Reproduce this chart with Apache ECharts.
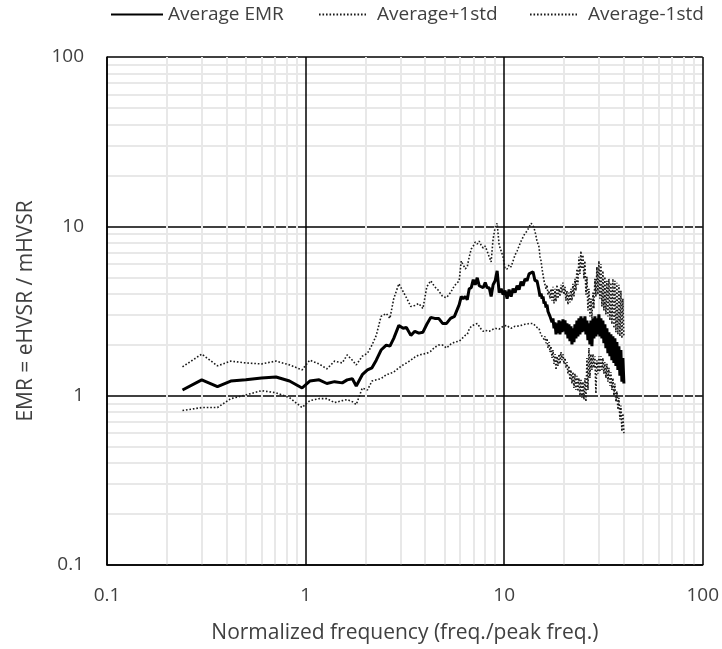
<!DOCTYPE html>
<html>
<head>
<meta charset="utf-8">
<title>EMR vs normalized frequency</title>
<script src="https://cdn.jsdelivr.net/npm/echarts@6/dist/echarts.min.js"></script>
<style>
  html, body { margin: 0; padding: 0; background: #ffffff; }
  #chart { width: 722px; height: 649px; }
</style>
</head>
<body>
<div id="chart"></div>
<script>
// Normalized frequency (freq./peak freq.)
const freq = [
  0.24, 0.30, 0.36, 0.42, 0.50, 0.60, 0.71, 0.83, 0.96, 1.05,
  1.17, 1.28, 1.40, 1.53, 1.62, 1.72, 1.80, 1.93, 2.05, 2.16,
  2.27, 2.40, 2.55, 2.66, 2.78, 2.95, 3.10, 3.22, 3.39, 3.55,
  3.72, 3.90, 4.08, 4.27, 4.47, 4.68, 4.90, 5.13, 5.37, 5.62,
  5.94, 6.08, 6.22, 6.37, 6.52, 6.67, 6.83, 6.99, 7.15, 7.32,
  7.49, 7.66, 7.84, 8.03, 8.21, 8.41, 8.60, 8.80, 9.01, 9.22,
  9.44, 9.66, 9.88, 10.11, 10.35, 10.59, 10.84, 11.09, 11.35, 11.62,
  11.89, 12.17, 12.45, 12.74, 13.04, 13.35, 13.66, 13.98, 14.30, 14.64,
  14.99, 15.16, 15.34, 15.52, 15.70, 15.88, 16.07, 16.25, 16.44, 16.63,
  16.83, 17.02, 17.22, 17.42, 17.62, 17.83, 18.04, 18.25, 18.46, 18.67,
  18.89, 19.11, 19.33, 19.56, 19.78, 20.01, 20.25, 20.48, 20.72, 20.96,
  21.21, 21.45, 21.70, 21.96, 22.21, 22.47, 22.73, 23.00, 23.26, 23.53,
  23.81, 24.09, 24.37, 24.65, 24.94, 25.23, 25.52, 25.82, 26.12, 26.42,
  26.73, 27.04, 27.36, 27.68, 28.00, 28.32, 28.65, 28.99, 29.33, 29.67,
  30.01, 30.36, 30.72, 31.07, 31.43, 31.80, 32.17, 32.55, 32.93, 33.31,
  33.70, 34.09, 34.49, 34.89, 35.30, 35.71, 36.12, 36.55, 36.97, 37.40,
  37.84, 38.28, 38.73, 39.18, 39.63, 40.10
];

// Average EMR = eHVSR / mHVSR
const avgEMR = [
  1.08, 1.24, 1.13, 1.22, 1.24, 1.27, 1.29, 1.22, 1.11, 1.22,
  1.24, 1.18, 1.21, 1.19, 1.24, 1.26, 1.14, 1.33, 1.42, 1.46,
  1.62, 1.86, 1.99, 1.96, 2.18, 2.60, 2.50, 2.53, 2.27, 2.40,
  2.34, 2.37, 2.64, 2.90, 2.86, 2.86, 2.67, 2.67, 2.86, 2.94,
  3.45, 3.85, 3.74, 3.85, 3.69, 4.28, 4.34, 4.84, 4.52, 4.97,
  4.46, 4.52, 4.34, 4.65, 4.34, 4.34, 3.85, 4.52, 4.77, 5.46,
  4.06, 4.28, 3.95, 4.17, 3.74, 4.23, 3.85, 4.28, 4.06, 4.46,
  4.23, 4.71, 4.46, 4.90, 4.77, 5.24, 5.11, 5.39, 4.77, 4.77,
  4.17, 3.85, 4.01, 3.74, 3.85, 3.50, 3.60, 3.32, 3.45, 3.14,
  3.18, 2.94, 3.02, 2.71, 2.86, 2.50, 2.71, 2.30, 2.67, 2.34,
  2.78, 2.30, 2.75, 2.37, 2.82, 2.40, 2.78, 2.30, 2.67, 2.18,
  2.64, 2.10, 2.57, 2.01, 2.50, 2.07, 2.64, 2.18, 2.78, 2.24,
  2.86, 2.30, 2.94, 2.37, 2.86, 2.40, 2.94, 2.30, 2.78, 2.13,
  2.67, 2.01, 2.78, 1.96, 2.86, 2.18, 2.94, 2.24, 2.86, 2.30,
  3.02, 2.24, 2.86, 2.18, 2.78, 2.04, 2.64, 1.91, 2.50, 1.78,
  2.37, 1.71, 2.30, 1.62, 2.24, 1.56, 2.18, 1.50, 2.07, 1.42,
  1.96, 1.31, 1.86, 1.21, 1.67, 1.18
];

// Average + 1 standard deviation
const avgPlus1 = [
  1.48, 1.76, 1.50, 1.60, 1.56, 1.54, 1.60, 1.52, 1.42, 1.62,
  1.54, 1.44, 1.60, 1.56, 1.74, 1.62, 1.52, 1.71, 1.78, 1.99,
  2.27, 2.94, 3.06, 2.86, 3.74, 4.58, 4.12, 3.79, 3.36, 3.41,
  3.50, 3.27, 4.40, 4.77, 4.40, 4.17, 3.85, 3.79, 4.06, 4.46,
  4.77, 6.25, 6.25, 5.61, 5.76, 6.60, 7.35, 7.65, 8.07, 7.86,
  8.18, 7.75, 7.44, 7.65, 7.15, 6.60, 6.17, 8.41, 9.88, 10.43,
  7.75, 7.15, 6.60, 5.61, 5.61, 5.92, 5.76, 6.25, 6.78, 7.15,
  7.65, 8.18, 8.64, 9.11, 9.36, 9.88, 10.43, 10.15, 9.36, 8.18,
  7.55, 6.60, 6.25, 5.61, 5.17, 4.77, 4.65, 4.28, 4.52, 3.95,
  4.17, 3.74, 4.28, 3.64, 4.40, 3.50, 4.28, 3.60, 4.52, 3.74,
  4.28, 3.85, 4.52, 4.06, 4.65, 3.95, 4.40, 3.64, 4.17, 3.45,
  4.06, 3.55, 4.28, 3.64, 4.58, 3.85, 4.90, 4.17, 5.61, 4.52,
  6.60, 5.24, 7.15, 5.61, 6.78, 4.90, 6.25, 3.95, 5.04, 3.18,
  4.28, 2.94, 3.74, 2.86, 4.06, 3.27, 4.90, 3.85, 5.76, 3.95,
  6.25, 3.74, 6.00, 3.36, 5.46, 3.18, 5.04, 3.02, 4.77, 2.94,
  4.90, 2.78, 4.65, 2.64, 4.90, 2.50, 4.77, 2.37, 4.65, 2.30,
  4.52, 2.24, 4.17, 2.18, 3.74, 2.24
];

// Average - 1 standard deviation
const avgMinus1 = [
  0.817, 0.851, 0.851, 0.960, 1.01, 1.07, 1.04, 0.973, 0.851, 0.935,
  0.960, 0.960, 0.910, 0.935, 0.948, 0.922, 0.886, 1.11, 1.08, 1.22,
  1.24, 1.26, 1.33, 1.35, 1.38, 1.46, 1.52, 1.56, 1.62, 1.69,
  1.74, 1.76, 1.78, 1.83, 1.93, 1.99, 1.99, 1.91, 2.01, 2.07,
  2.10, 2.15, 2.18, 2.27, 2.30, 2.47, 2.57, 2.60, 2.64, 2.67,
  2.57, 2.47, 2.40, 2.43, 2.37, 2.40, 2.34, 2.47, 2.50, 2.53,
  2.47, 2.50, 2.57, 2.64, 2.60, 2.53, 2.50, 2.53, 2.57, 2.57,
  2.53, 2.60, 2.60, 2.64, 2.64, 2.67, 2.64, 2.67, 2.60, 2.53,
  2.50, 2.37, 2.40, 2.24, 2.30, 2.15, 2.24, 2.04, 2.18, 1.91,
  2.07, 1.81, 1.96, 1.67, 1.86, 1.54, 1.76, 1.42, 1.71, 1.50,
  1.76, 1.54, 1.81, 1.62, 1.76, 1.54, 1.67, 1.46, 1.58, 1.35,
  1.50, 1.24, 1.42, 1.18, 1.38, 1.11, 1.35, 1.08, 1.31, 1.06,
  1.27, 1.00, 1.24, 0.973, 1.21, 0.948, 1.27, 0.922, 1.67, 1.08,
  1.91, 1.27, 1.76, 1.42, 1.76, 1.46, 1.71, 1.03, 1.62, 1.35,
  1.71, 1.38, 1.71, 1.42, 1.67, 1.35, 1.58, 1.27, 1.54, 1.21,
  1.46, 1.14, 1.38, 1.08, 1.27, 1.00, 1.18, 0.922, 1.06, 0.828,
  0.973, 0.724, 0.874, 0.616, 0.785, 0.600
];

// Axis range (decades) and minor grid positions
const axisMin = 0.1;
const axisMax = 100;
const minorGrid = [
  0.2, 0.3, 0.4, 0.5, 0.6, 0.7, 0.8, 0.9,
  2, 3, 4, 5, 6, 7, 8, 9,
  20, 30, 40, 50, 60, 70, 80, 90
];

const seriesNames = ['Average EMR', 'Average+1std', 'Average-1std'];

const FONT = '"Open Sans", "Liberation Sans", sans-serif';
const TEXT_COLOR = '#404040';
const MINOR_COLOR = '#e8e8e8';

const pairs = (ys) => freq.map((f, i) => [f, ys[i]]);

const chart = echarts.init(document.getElementById('chart'), null, { renderer: 'canvas' });

const legendText = { fontFamily: FONT, fontSize: 19, color: TEXT_COLOR };
// legend entries show only the line sample, no marker
const legendBase = { top: 5, padding: 0, itemHeight: 14, itemStyle: { opacity: 0 } };

chart.setOption({
  backgroundColor: '#ffffff',
  animation: false,
  textStyle: { fontFamily: FONT },
  grid: { left: 107, right: 19, top: 57, bottom: 80, containLabel: false },
  legend: [
    Object.assign({}, legendBase, {
      data: [seriesNames[0]], left: 110, itemWidth: 52,
      textStyle: Object.assign({ padding: [0, 0, 0, 0] }, legendText)
    }),
    Object.assign({}, legendBase, {
      data: [seriesNames[1]], left: 318, itemWidth: 47,
      textStyle: Object.assign({ padding: [0, 0, 0, 6] }, legendText)
    }),
    Object.assign({}, legendBase, {
      data: [seriesNames[2]], left: 529, itemWidth: 47,
      textStyle: Object.assign({ padding: [0, 0, 0, 6] }, legendText)
    })
  ],
  xAxis: {
    type: 'log',
    logBase: 10,
    min: axisMin,
    max: axisMax,
    z: 4,
    name: 'Normalized frequency (freq./peak freq.)',
    nameLocation: 'middle',
    nameGap: 58,
    nameTextStyle: { fontFamily: FONT, fontSize: 21, color: TEXT_COLOR },
    axisLine: { show: true, lineStyle: { color: '#000', width: 1.5 } },
    axisTick: { show: false },
    axisLabel: { fontFamily: FONT, fontSize: 19, color: TEXT_COLOR, margin: 21 },
    splitLine: { show: true, lineStyle: { color: '#000', width: 1.5 } }
  },
  yAxis: {
    type: 'log',
    logBase: 10,
    min: axisMin,
    max: axisMax,
    z: 2,
    name: 'EMR = eHVSR / mHVSR',
    nameLocation: 'middle',
    nameGap: 70,
    nameTextStyle: { fontFamily: FONT, fontSize: 21, color: TEXT_COLOR },
    axisLine: { show: true, lineStyle: { color: '#000', width: 1.5 } },
    axisTick: { show: false },
    axisLabel: { fontFamily: FONT, fontSize: 19, color: TEXT_COLOR, margin: 23 },
    splitLine: { show: true, lineStyle: { color: '#000', width: 1.5 } }
  },
  series: [
    {
      // horizontal minor grid
      type: 'lines',
      coordinateSystem: 'cartesian2d',
      z: 1,
      silent: true,
      lineStyle: { color: MINOR_COLOR, width: 2, opacity: 1 },
      data: minorGrid.map(v => ({ coords: [[axisMin, v], [axisMax, v]] }))
    },
    {
      // vertical minor grid, drawn over the horizontal major lines
      type: 'lines',
      coordinateSystem: 'cartesian2d',
      z: 3,
      silent: true,
      lineStyle: { color: MINOR_COLOR, width: 2, opacity: 1 },
      data: minorGrid.map(v => ({ coords: [[v, axisMin], [v, axisMax]] }))
    },
    {
      name: seriesNames[1],
      type: 'line',
      z: 5,
      data: pairs(avgPlus1),
      symbol: 'none',
      sampling: null,
      lineStyle: { color: '#1a1a1a', width: 1.6, type: [1.6, 1.9] },
      itemStyle: { color: '#1a1a1a' }
    },
    {
      name: seriesNames[2],
      type: 'line',
      z: 5,
      data: pairs(avgMinus1),
      symbol: 'none',
      sampling: null,
      lineStyle: { color: '#1a1a1a', width: 1.6, type: [1.6, 1.9] },
      itemStyle: { color: '#1a1a1a' }
    },
    {
      name: seriesNames[0],
      type: 'line',
      z: 6,
      data: pairs(avgEMR),
      symbol: 'none',
      sampling: null,
      lineStyle: { color: '#000', width: 3, type: 'solid' },
      itemStyle: { color: '#000' }
    }
  ]
});
</script>
</body>
</html>
